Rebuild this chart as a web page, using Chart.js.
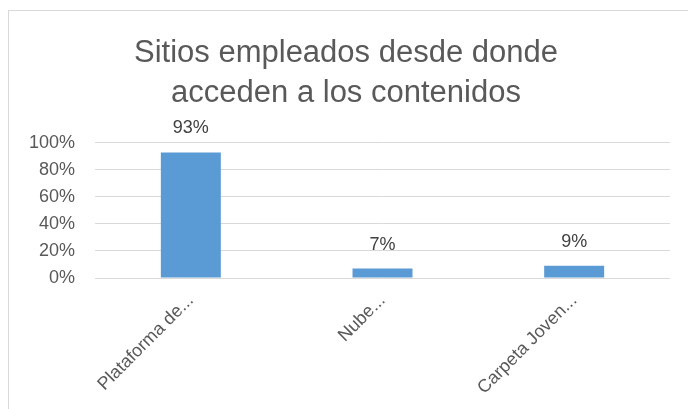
<!DOCTYPE html>
<html lang="es">
<head>
<meta charset="UTF-8" />
<title>Sitios empleados</title>
<script src="https://cdn.jsdelivr.net/npm/chart.js@4"></script>
<style>
  html, body { margin: 0; padding: 0; background: #fff; }
  #frame {
    position: absolute; left: 8px; top: 10px;
    width: 680px; height: 399px; box-sizing: border-box;
    border-top: 1px solid #d9d9d9; border-left: 1px solid #d9d9d9;
  }
  #chart { position: absolute; left: 0; top: 11px; display: block; }
</style>
</head>
<body>
<div id="frame"></div>
<canvas id="chart" width="688" height="398"></canvas>
<script>
  // data
  const categories = ['Plataforma de...', 'Nube...', 'Carpeta Joven...'];
  const shares = [93, 7, 9];
  const titleLines = ['Sitios empleados desde donde', 'acceden a los contenidos'];

  const FONT = "'Liberation Sans', Arial, sans-serif";

  // percentage labels above each bar
  const barLabels = {
    id: 'barLabels',
    afterDatasetsDraw(chart) {
      const ctx = chart.ctx;
      const meta = chart.getDatasetMeta(0);
      ctx.save();
      ctx.font = '18px ' + FONT;
      ctx.fillStyle = '#404040';
      ctx.textAlign = 'center';
      ctx.textBaseline = 'middle';
      meta.data.forEach((bar, i) => {
        ctx.fillText(shares[i] + '%', bar.x, bar.y - 24);
      });
      ctx.restore();
    }
  };

  new Chart(document.getElementById('chart'), {
    type: 'bar',
    data: {
      labels: categories,
      datasets: [{
        data: shares,
        backgroundColor: '#5b9bd5',
        borderWidth: 0,
        categoryPercentage: 1,
        barPercentage: 0.313
      }]
    },
    options: {
      responsive: false,
      animation: false,
      layout: { padding: { left: 22, right: 18, top: 0, bottom: 0 } },
      plugins: {
        legend: { display: false },
        tooltip: { enabled: false },
        title: {
          display: true,
          text: titleLines,
          color: '#595959',
          font: { family: FONT, size: 31, weight: 'normal', lineHeight: 1.29 },
          padding: { top: 22, bottom: 30 }
        }
      },
      scales: {
        x: {
          grid: { display: false },
          border: { display: false },
          ticks: {
            color: '#595959',
            font: { family: FONT, size: 18 },
            maxRotation: 45,
            minRotation: 45,
            padding: 4
          },
          afterFit(scale) { scale.height = 131; }
        },
        y: {
          min: 0,
          max: 100,
          border: { display: false },
          grid: { color: '#d9d9d9', drawTicks: false },
          ticks: {
            stepSize: 20,
            color: '#595959',
            font: { family: FONT, size: 18 },
            padding: 20,
            callback: v => v + '%'
          },
          afterFit(scale) { scale.width = 73; }
        }
      }
    },
    plugins: [barLabels]
  });
</script>
</body>
</html>
